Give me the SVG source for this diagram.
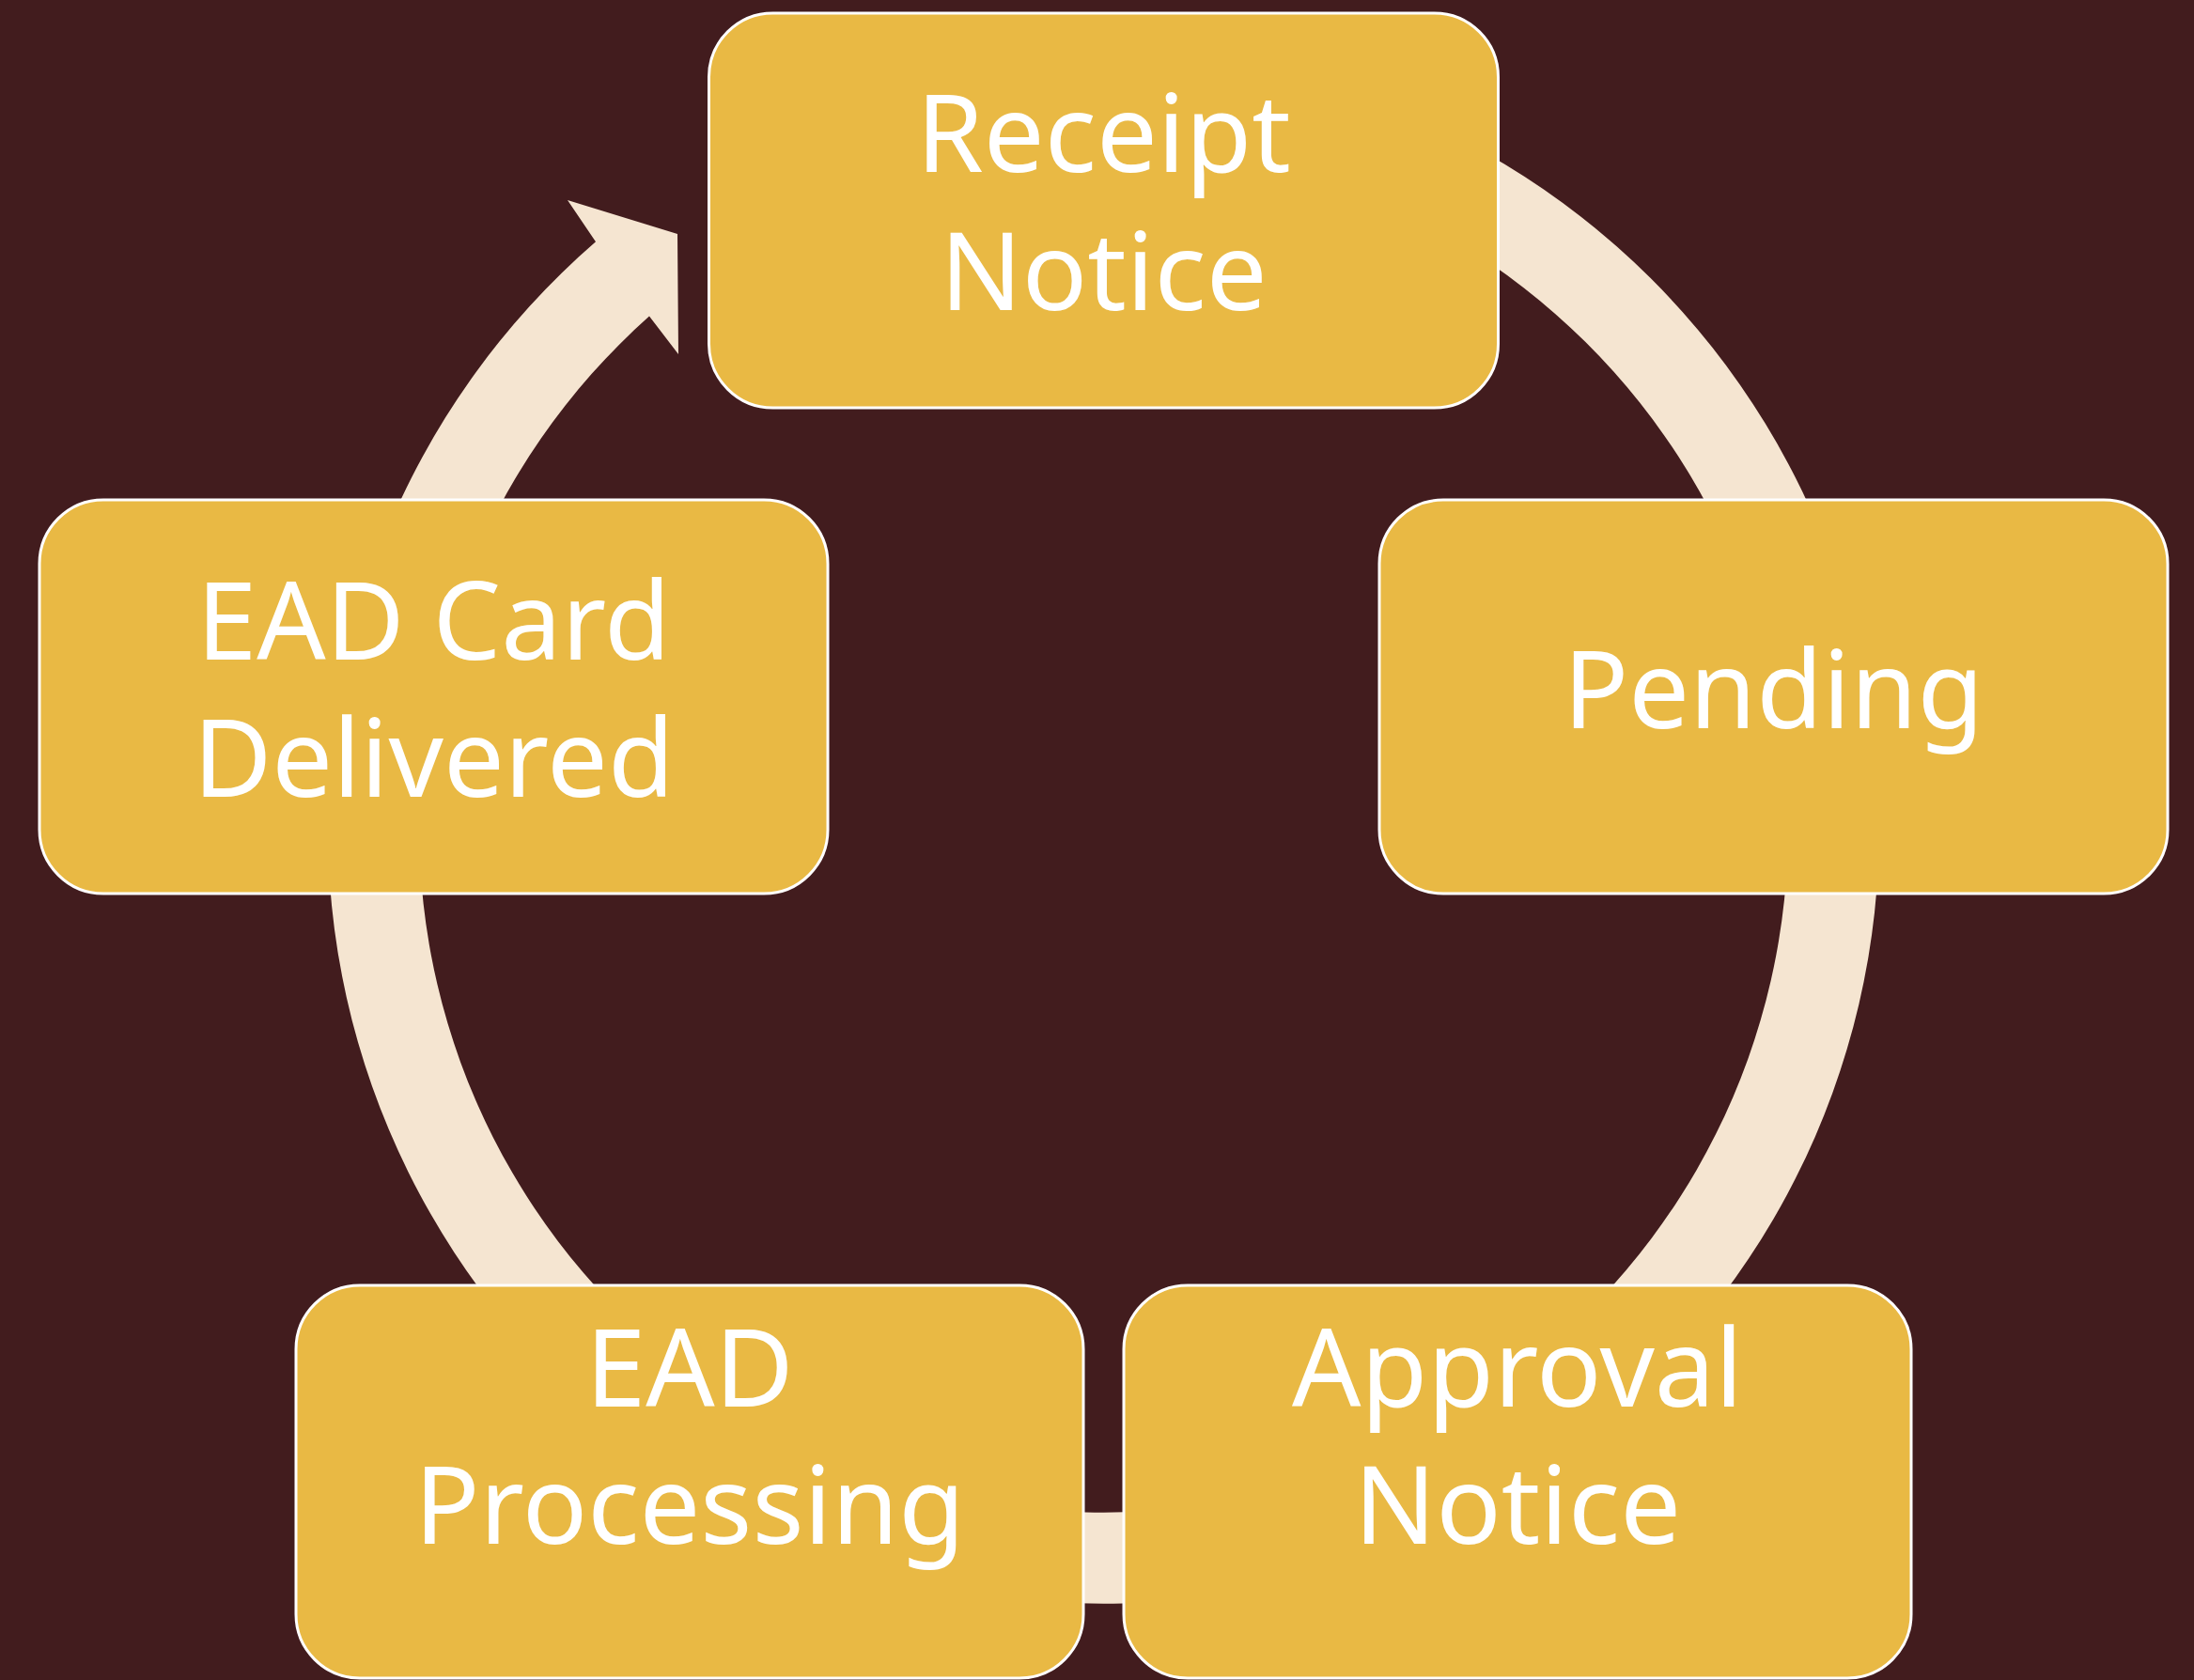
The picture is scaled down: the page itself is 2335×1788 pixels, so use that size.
<svg xmlns="http://www.w3.org/2000/svg" width="2335" height="1788" viewBox="0 0 2335 1788">
<style>
.bg{fill:#421C1E}
.ring{fill:#F5E5D1}
.box{fill:#E9B944;stroke:#FFFFFF;stroke-width:3}
.lbl{fill:#FFFFFF;font-family:"Noto Sans","Open Sans","Liberation Sans",sans-serif;font-size:115px;text-anchor:middle;font-variant-ligatures:none}
</style>
<rect class="bg" x="0" y="0" width="2335" height="1788"/>
<g id="connectors">
<path class="ring" d="M 1031.15 68.34 A 825.5 825.5 0 1 1 634 257.3 L 604 213 L 721 249 L 722 377 L 691 336.6 A 728.4 728.4 0 1 0 1048 164 Z"/>
</g>
<g id="receipt-notice">
<rect class="box" x="754.5" y="14" width="840" height="420" rx="68"/>
<text class="lbl" x="1174.5" y="183">Receipt</text>
<text class="lbl" x="1174.5" y="330">Notice</text>
</g>
<g id="pending">
<rect class="box" x="1468" y="532" width="839" height="419" rx="68"/>
<text class="lbl" x="1887.5" y="775">Pending</text>
</g>
<g id="approval-notice">
<rect class="box" x="1196" y="1368" width="838" height="418" rx="68"/>
<text class="lbl" x="1615" y="1497">Approval</text>
<text class="lbl" x="1615" y="1643">Notice</text>
</g>
<g id="ead-processing">
<rect class="box" x="315" y="1368" width="838" height="418" rx="68"/>
<text class="lbl" x="734" y="1497">EAD</text>
<text class="lbl" x="734" y="1643">Processing</text>
</g>
<g id="ead-card-delivered">
<rect class="box" x="42" y="532" width="839" height="419" rx="68"/>
<text class="lbl" x="461.5" y="702">EAD Card</text>
<text class="lbl" x="461.5" y="848">Delivered</text>
</g>
</svg>
